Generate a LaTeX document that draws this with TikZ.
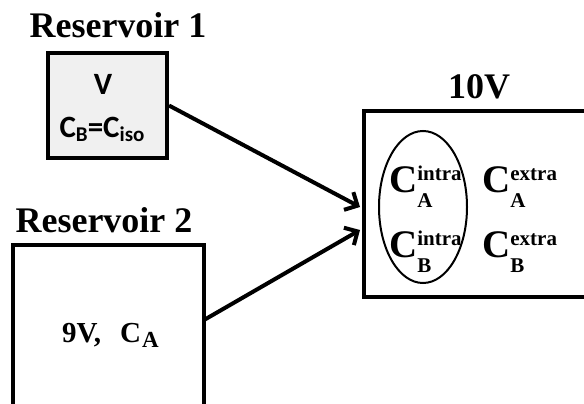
\documentclass[tikz,border=0pt]{standalone}
\usepackage{fontspec}
\setmainfont{Liberation Serif}
\newfontfamily\calib{Carlito}
\usetikzlibrary{arrows.meta}
\newcommand\CC[2]{{\fontsize{39}{39}\selectfont C}\rlap{\raisebox{12pt}{\fontsize{21}{21}\selectfont #1}}\raisebox{-15pt}{\fontsize{21}{21}\selectfont #2}}
\tikzset{
  title/.style={font=\bfseries\fontsize{36}{36}\selectfont, anchor=base, inner sep=0pt},
  boxline/.style={draw=black, line width=4pt},
  flow/.style={line width=4pt, -{Straight Barb[length=10pt,width=20pt]}},
  lbl/.style={font=\bfseries, anchor=base west, inner sep=0pt},
  sanslbl/.style={font=\calib\bfseries\fontsize{31}{31}\selectfont, anchor=base, inner sep=0pt}
}
\begin{document}
\begin{tikzpicture}[x=1pt,y=-1pt]
\useasboundingbox (0,0) rectangle (584,404);
\clip (0,0) rectangle (584,404);
\fill[white] (0,0) rectangle (584,404);
% Reservoir 1
\node[title] (t1) at (118,38) {Reservoir 1};
\node[boxline, fill=gray!12, minimum width=119pt, minimum height=105pt, inner sep=0pt] (r1) at (107.5,105.5) {};
\node[sanslbl] (v1) at (103,95) {V};
\node[sanslbl] (c1) at (102,137) {C\raisebox{-4pt}{\fontsize{21}{21}\selectfont B}=C\raisebox{-4pt}{\fontsize{21}{21}\selectfont iso}};
% Reservoir 2
\node[title] (t2) at (104,232) {Reservoir 2};
\draw[boxline] (13,420) -- (13,245) -- (204,245) -- (204,420);
\node[lbl, font=\bfseries\fontsize{29}{29}\selectfont] (l2) at (62,342) {9V,\hspace{19pt}C\kern1pt\raisebox{-5pt}{\fontsize{23}{23}\selectfont A}};
\coordinate (s2) at (204,320);
% Target
\node[title] (t3) at (479,99) {10V};
\draw[boxline] (600,110.5) -- (364,110.5) -- (364,297) -- (600,297);
\draw[line width=2pt] (423,207) ellipse [x radius=44, y radius=76];
\node[lbl] (ai) at (389,192) {\CC{intra}{A}};
\node[lbl] (bi) at (389,257) {\CC{intra}{B}};
\node[lbl] (ae) at (482,192) {\CC{extra}{A}};
\node[lbl] (be) at (482,257) {\CC{extra}{B}};
\coordinate (e1) at (360,207);
\coordinate (e2) at (360,230);
% arrows
\draw[flow] (r1.east) -- (e1);
\draw[flow] (s2) -- (e2);
\end{tikzpicture}
\end{document}
